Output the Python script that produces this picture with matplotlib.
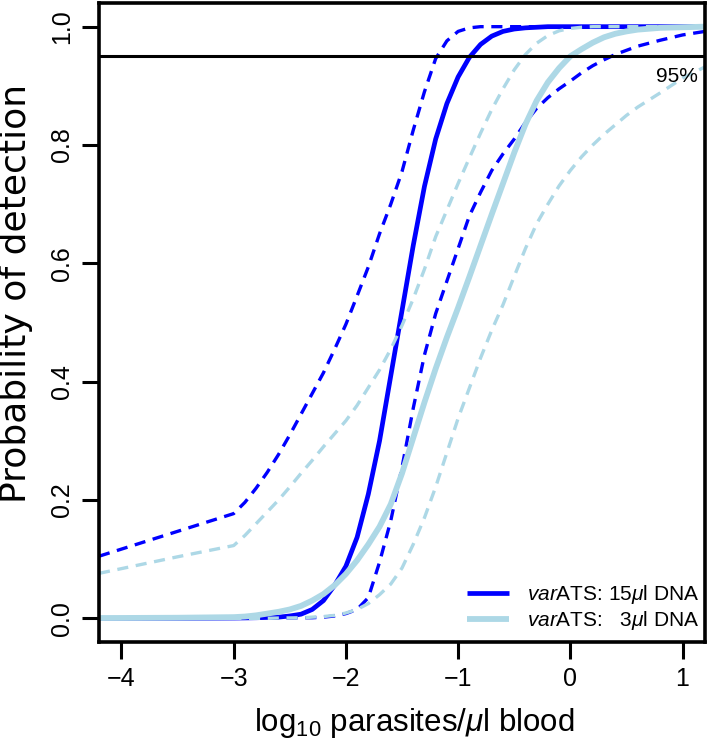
import matplotlib
matplotlib.use("Agg")
import matplotlib.pyplot as plt

plt.rcParams['font.family'] = ['Liberation Sans', 'DejaVu Sans']
plt.rcParams['mathtext.fontset'] = 'custom'
plt.rcParams['mathtext.rm'] = 'Liberation Sans'
plt.rcParams['mathtext.it'] = 'Liberation Sans:italic'
plt.rcParams['lines.scale_dashes'] = False

# ---- data ----
log10_parasites = [-4.2, -4.0, -3.5, -3.0, -2.9, -2.8, -2.7, -2.6, -2.5, -2.4,
                   -2.3, -2.2, -2.1, -2.0, -1.9, -1.8, -1.7, -1.6, -1.5, -1.4,
                   -1.3, -1.2, -1.1, -1.0, -0.9, -0.8, -0.7, -0.6, -0.5, -0.4,
                   -0.3, -0.2, -0.1, 0.0, 0.1, 0.2, 0.3, 0.4, 0.5, 0.6,
                   0.8, 1.0, 1.2]

fit_15ul = [0.0, 0.0, 0.0, 0.0005, 0.0007, 0.001, 0.0015, 0.002, 0.004, 0.007,
            0.015, 0.03, 0.056, 0.088, 0.137, 0.21, 0.30, 0.41, 0.52, 0.63,
            0.73, 0.81, 0.87, 0.915, 0.948, 0.97, 0.984, 0.992, 0.996, 0.998,
            0.999, 1.0, 1.0, 1.0, 1.0, 1.0, 1.0, 1.0, 1.0, 1.0,
            1.0, 1.0, 1.0]
lower_15ul = [0.0, 0.0, 0.0, 0.0, 0.0, 0.0, 0.0, 0.0005, 0.0007, 0.001,
              0.001, 0.002, 0.004, 0.008, 0.015, 0.035, 0.095, 0.165, 0.255, 0.355,
              0.445, 0.515, 0.57, 0.625, 0.68, 0.72, 0.757, 0.785, 0.81, 0.838,
              0.862, 0.88, 0.895, 0.908, 0.922, 0.934, 0.944, 0.953, 0.96, 0.967,
              0.977, 0.986, 0.992]
upper_15ul = [0.105, 0.117, 0.147, 0.177, 0.196, 0.22, 0.247, 0.277, 0.31, 0.345,
              0.38, 0.415, 0.455, 0.497, 0.545, 0.594, 0.65, 0.70, 0.755, 0.825,
              0.89, 0.946, 0.976, 0.992, 0.998, 1.0, 1.0, 1.0, 1.0, 1.0,
              1.0, 1.0, 1.0, 1.0, 1.0, 1.0, 1.0, 1.0, 1.0, 1.0,
              1.0, 1.0, 1.0]

fit_3ul = [0.0005, 0.0006, 0.001, 0.002, 0.003, 0.005, 0.008, 0.011, 0.015, 0.021,
           0.03, 0.041, 0.056, 0.075, 0.098, 0.125, 0.155, 0.193, 0.245, 0.305,
           0.365, 0.422, 0.475, 0.525, 0.577, 0.63, 0.683, 0.735, 0.787, 0.835,
           0.875, 0.906, 0.93, 0.95, 0.962, 0.973, 0.982, 0.988, 0.992, 0.995,
           0.998, 0.999, 1.0]
lower_3ul = [0.0, 0.0, 0.0, 0.0, 0.0, 0.0, 0.0, 0.0005, 0.0007, 0.001,
             0.002, 0.003, 0.005, 0.009, 0.015, 0.025, 0.04, 0.058, 0.085, 0.125,
             0.17, 0.222, 0.28, 0.338, 0.389, 0.44, 0.487, 0.53, 0.578, 0.625,
             0.667, 0.70, 0.731, 0.757, 0.78, 0.80, 0.818, 0.834, 0.85, 0.864,
             0.888, 0.913, 0.932]
upper_3ul = [0.076, 0.084, 0.104, 0.123, 0.14, 0.16, 0.18, 0.20, 0.222, 0.245,
             0.267, 0.29, 0.312, 0.334, 0.36, 0.39, 0.42, 0.455, 0.495, 0.54,
             0.59, 0.645, 0.69, 0.735, 0.778, 0.82, 0.86, 0.895, 0.927, 0.953,
             0.972, 0.985, 0.993, 0.997, 0.999, 1.0, 1.0, 1.0, 1.0, 1.0,
             1.0, 1.0, 1.0]

x_ticks = [-4, -3, -2, -1, 0, 1]
y_ticks = [0.0, 0.2, 0.4, 0.6, 0.8, 1.0]
threshold = 0.95
threshold_label = "95%"
legend_labels = [r'$\mathit{var}$ATS: 15$\mu$l DNA',
                 r'$\mathit{var}$ATS:   3$\mu$l DNA']

dark = '#0000FF'
light = '#ADD8E6'

fig = plt.figure(figsize=(7.09, 7.42), dpi=100)
ax = fig.add_axes([99/709, 1 - 642/742, 606/709, 639/742])

dash = (8, 5.5)
ax.plot(log10_parasites, lower_15ul, color=dark, lw=2.4, dashes=dash)
ax.plot(log10_parasites, upper_15ul, color=dark, lw=2.4, dashes=dash)
h1, = ax.plot(log10_parasites, fit_15ul, color=dark, lw=3.4, solid_capstyle='butt')
ax.plot(log10_parasites, lower_3ul, color=light, lw=2.4, dashes=dash)
ax.plot(log10_parasites, upper_3ul, color=light, lw=2.4, dashes=dash)
h2, = ax.plot(log10_parasites, fit_3ul, color=light, lw=4.2, solid_capstyle='butt')

ax.axhline(threshold, color='black', lw=2.2)
ax.text(1.14, 0.906, threshold_label, ha='right', va='baseline', fontsize=15)

ax.set_xlim(-4.2, 1.2)
ax.set_ylim(-0.04, 1.04)
ax.set_xticks(x_ticks)
ax.set_yticks(y_ticks)
ax.set_yticklabels([f"{v:.1f}" for v in y_ticks])
ax.tick_params(axis='both', labelsize=18, length=12, width=2.2, direction='out')
ax.tick_params(axis='x', pad=6)
ax.tick_params(axis='y', pad=6, labelrotation=90)
for lab in ax.get_yticklabels():
    lab.set_va('center')
for sp in ax.spines.values():
    sp.set_linewidth(2.6)

ax.set_xlabel(r'log$_{10}$ parasites/$\mu$l blood', fontsize=22.5)
ax.xaxis.set_label_coords(0.521, -0.100)
ax.set_ylabel('Probability of detection', fontsize=26, family=['DejaVu Sans'])
ax.yaxis.set_label_coords(-0.109, 0.545)

ax.legend([h1, h2], legend_labels, loc='lower right', frameon=False,
          bbox_to_anchor=(0.99, 0.015), borderaxespad=0, borderpad=0,
          fontsize=15, handlelength=2.0, handletextpad=0.85, labelspacing=0.15)

fig.savefig('out.png', dpi=100)
